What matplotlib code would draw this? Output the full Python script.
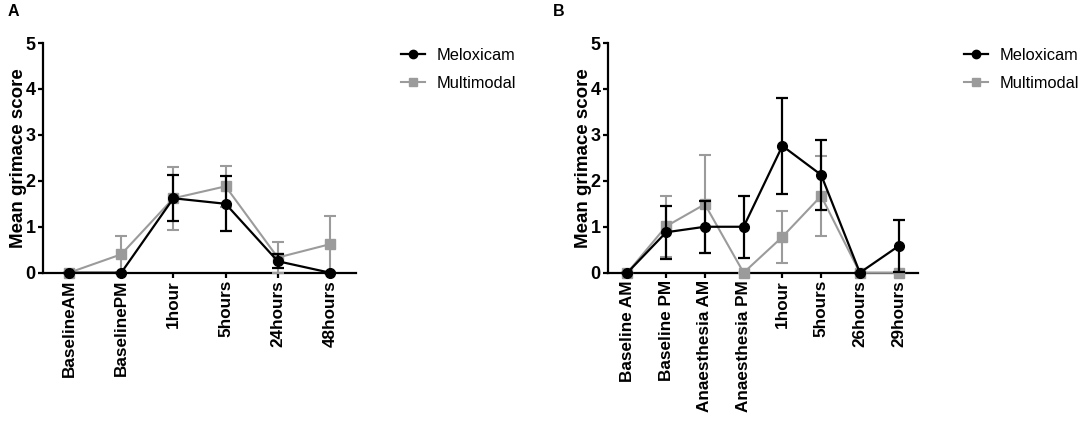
import matplotlib
matplotlib.use("Agg")
import matplotlib.pyplot as plt
from matplotlib.lines import Line2D

plt.rcParams['font.family'] = ['Liberation Sans', 'DejaVu Sans']

# Panel A data
labels_a = ["BaselineAM", "BaselinePM", "1hour", "5hours", "24hours", "48hours"]
melox_a = [0, 0, 1.62, 1.50, 0.25, 0]
melox_a_err = [0, 0, 0.50, 0.60, 0.15, 0]
multi_a = [0, 0.40, 1.62, 1.88, 0.33, 0.62]
multi_a_err = [0, 0.40, 0.68, 0.45, 0.33, 0.61]

# Panel B data
labels_b = ["Baseline AM", "Baseline PM", "Anaesthesia AM", "Anaesthesia PM",
            "1hour", "5hours", "26hours", "29hours"]
melox_b = [0, 0.88, 1.00, 1.00, 2.76, 2.13, 0, 0.58]
melox_b_err = [0, 0.58, 0.57, 0.67, 1.05, 0.76, 0, 0.56]
multi_b = [0, 1.01, 1.49, 0, 0.78, 1.67, 0, 0]
multi_b_err = [0, 0.66, 1.07, 0, 0.57, 0.88, 0, 0]

BLACK = "#000000"
GREY = "#9b9b9b"

fig = plt.figure(figsize=(10.84, 4.23), dpi=100)
axA = fig.add_axes([43/1084, 1-272.7/423, (356-43)/1084, (272.7-43)/423])
axB = fig.add_axes([608/1084, 1-272.7/423, (918-608)/1084, (272.7-43)/423])


def draw(ax, labels, m, me, u, ue, legend_x):
    x = list(range(len(labels)))
    eb_u = ax.errorbar(x, u, yerr=ue, color=GREY, ecolor=GREY, marker='s',
                       markersize=6.5, linewidth=1.5, elinewidth=1.5, capsize=4,
                       capthick=1.5, zorder=3, clip_on=False)
    eb_m = ax.errorbar(x, m, yerr=me, color=BLACK, ecolor=BLACK, marker='o',
                       markersize=7, linewidth=1.6, elinewidth=1.6, capsize=4,
                       capthick=1.6, zorder=4, clip_on=False)
    for art in (eb_u, eb_m):
        for a in list(art.lines[1]) + list(art.lines[2]):
            a.set_clip_on(False)
    ax.set_xlim(-0.5, len(labels) - 0.5)
    ax.set_ylim(0, 5)
    ax.set_yticks([0, 1, 2, 3, 4, 5])
    ax.set_xticks(x)
    ax.set_xticklabels(labels, rotation=90, fontsize=12.3, fontweight='bold')
    for t in ax.get_yticklabels():
        t.set_fontsize(13)
        t.set_fontweight('bold')
    ax.set_ylabel("Mean grimace score", fontsize=13.5, fontweight='bold', labelpad=-1)
    for s in ('top', 'right'):
        ax.spines[s].set_visible(False)
    for s in ('left', 'bottom'):
        ax.spines[s].set_linewidth(1.6)
    ax.tick_params(axis='both', width=1.6, length=3.8, direction='out', pad=1.5)
    h1 = Line2D([], [], color=BLACK, marker='o', markersize=6, linewidth=1.6)
    h2 = Line2D([], [], color=GREY, marker='s', markersize=5.5, linewidth=1.5)
    fig.legend([h1, h2], ["Meloxicam", "Multimodal"], loc='upper left',
               bbox_to_anchor=(legend_x, 1 - 48/423), frameon=False, fontsize=11.8,
               borderpad=0, borderaxespad=0, handlelength=1.45, handletextpad=0.7,
               labelspacing=0.8)


draw(axA, labels_a, melox_a, melox_a_err, multi_a, multi_a_err, 401/1084)
draw(axB, labels_b, melox_b, melox_b_err, multi_b, multi_b_err, 964/1084)

fig.text(8/1084, 1-16/423, "A", fontsize=11.5, fontweight='bold')
fig.text(553/1084, 1-16/423, "B", fontsize=11.5, fontweight='bold')

fig.savefig("out.png", dpi=100)
